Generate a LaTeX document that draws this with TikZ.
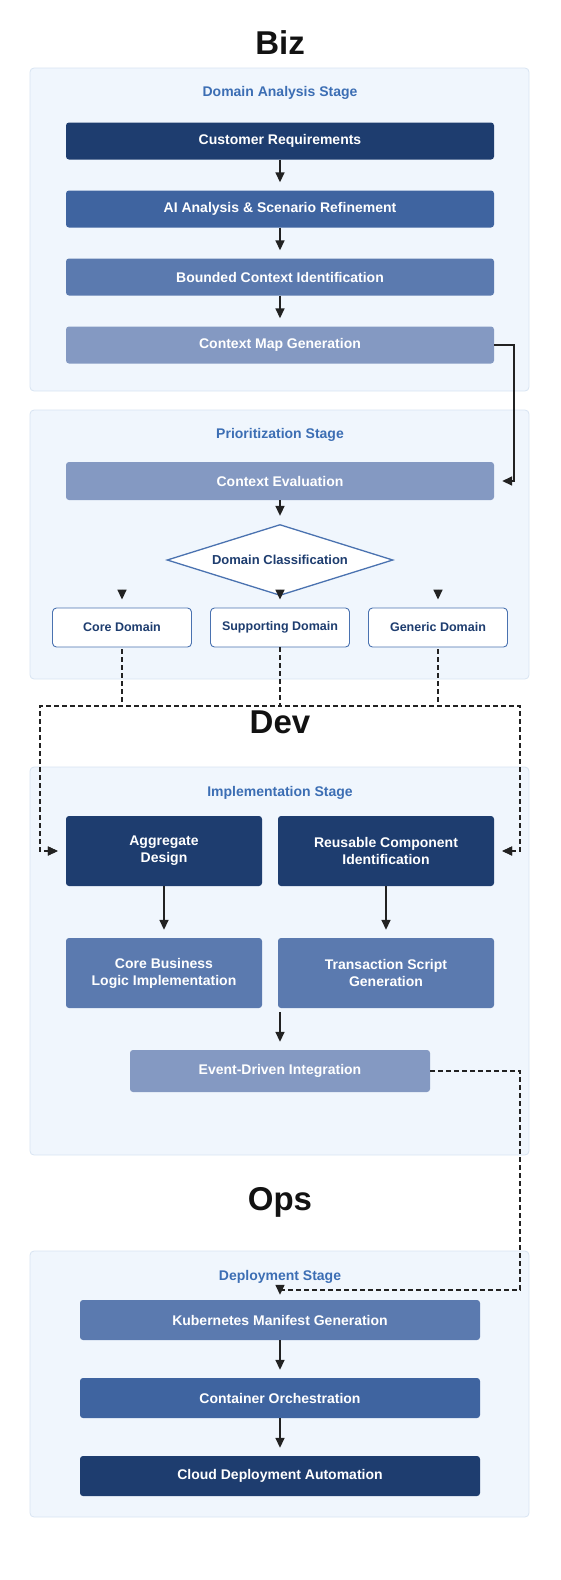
\documentclass[tikz,border=0pt]{standalone}
\usepackage{fontspec}
\setmainfont{Liberation Sans}
\usepackage{xcolor}
\usepackage{tikz}
\usetikzlibrary{arrows.meta,positioning,calc,shapes.geometric}
\definecolor{cdark}{HTML}{1E3D6F}
\definecolor{cmed}{HTML}{3F64A0}
\definecolor{cmlt}{HTML}{5B7AAF}
\definecolor{clt}{HTML}{8499C2}
\definecolor{pnlfill}{HTML}{F0F6FD}
\definecolor{pnldraw}{HTML}{D8E4F2}
\definecolor{stgtxt}{HTML}{3C6EB4}
\definecolor{dmdraw}{HTML}{4A72B0}
\definecolor{arrcol}{HTML}{222222}

\begin{document}
\begin{tikzpicture}[x=1pt,y=-1pt,
pnl/.style={fill=pnlfill, draw=pnldraw, line width=0.8pt, rounded corners=4pt},
ttl/.style={text=black!93, font=\bfseries\fontsize{33}{40}\selectfont},
stg/.style={text=stgtxt, font=\bfseries\fontsize{14}{17}\selectfont},
bx/.style={rounded corners=3pt, text=white, align=center, inner sep=0pt, font=\bfseries\fontsize{14}{17}\selectfont},
bxdark/.style={bx, fill=cdark},
bxmed/.style={bx, fill=cmed},
bxmlt/.style={bx, fill=cmlt},
bxlt/.style={bx, fill=clt},
wide/.style={minimum width=428, minimum height=37},
dom/.style={draw=dmdraw, fill=white, rounded corners=4pt, line width=0.9pt, minimum width=139, minimum height=39, inner sep=0pt, text=cdark, font=\bfseries\fontsize{12.5}{15}\selectfont},
arr/.style={draw=arrcol, line width=1.6pt, -{Triangle[length=10pt,width=9pt]}, shorten >=8pt},
dsh/.style={draw=arrcol, line width=1.4pt, dash pattern=on 5pt off 3pt, -{Triangle[length=10pt,width=9pt]}, shorten >=8pt}
]
\useasboundingbox (0,0) rectangle (560,1580);
% Create the stage panels
\draw[pnl] (30,68) rectangle (529,391);
\draw[pnl] (30,410) rectangle (529,679);
\draw[pnl] (30,767) rectangle (529,1155);
\draw[pnl] (30,1251) rectangle (529,1517);
% Biz
\node[ttl] (biz) at (280,43) {Biz};
\node[stg] (stga) at (280,93) {Domain Analysis Stage};
\node[bxdark, wide] (cust) at (280,141) {Customer Requirements};
\node[bxmed, wide] (aian) at (280,209) {AI Analysis \& Scenario Refinement};
\node[bxmlt, wide] (bctx) at (280,277) {Bounded Context Identification};
\node[bxlt, wide] (cmap) at (280,345) {Context Map Generation};
\draw[arr] (cust) -- (aian);
\draw[arr] (aian) -- (bctx);
\draw[arr] (bctx) -- (cmap);
% Prioritization
\node[stg] (stgp) at (280,435) {Prioritization Stage};
\node[bxlt, minimum width=428, minimum height=38] (ceval) at (280,481) {Context Evaluation};
\node[diamond, aspect=3.2, draw=dmdraw, fill=white, line width=1.3pt, inner sep=0pt, minimum width=226, minimum height=71, text=cdark, font=\bfseries\fontsize{13}{15}\selectfont] (dcls) at (280,560) {Domain Classification};
\node[dom] (core) at (122,627.5) {Core Domain};
\node[dom] (supp) at (280,627.5) {Supporting Domain};
\node[dom] (gen) at (438,627.5) {Generic Domain};
\draw[arr] (cmap.east) -- ++(20,0) |- (ceval.east);
\draw[arr] (ceval) -- (dcls);
\draw[arr] ($(core.north)+(0,-18)$) -- (core.north);
\draw[arr] ($(supp.north)+(0,-18)$) -- (supp.north);
\draw[arr] ($(gen.north)+(0,-18)$) -- (gen.north);
% Dev
\node[ttl] (dev) at (280,722) {Dev};
\node[stg] (stgi) at (280,793) {Implementation Stage};
\node[bxdark, minimum width=196, minimum height=70] (aggr) at (164,851) {Aggregate\\Design};
\node[bxdark, minimum width=216, minimum height=70] (reuse) at (386,851) {Reusable Component\\Identification};
\node[bxmlt, minimum width=196, minimum height=70] (cbiz) at (164,973) {Core Business\\Logic Implementation};
\node[bxmlt, minimum width=216, minimum height=70] (tscr) at (386,973) {Transaction Script\\Generation};
\node[bxlt, minimum width=300, minimum height=42] (evt) at (280,1071) {Event-Driven Integration};
\draw[dsh, dash phase=6pt] (core.south) |- (40,706) |- (aggr.west);
\draw[dsh] (supp.south) |- (40,706) |- (aggr.west);
\draw[dsh] (supp.south) |- (520,706) |- (reuse.east);
\draw[dsh, dash phase=6pt] (gen.south) |- (520,706) |- (reuse.east);
\draw[arr] (aggr) -- (cbiz);
\draw[arr] (reuse) -- (tscr);
\draw[arr, shorten <=4pt] (evt.north |- tscr.south) -- (evt.north);
% Ops
\node[ttl] (ops) at (280,1202) {Ops};
\node[stg] (stgd) at (280,1277) {Deployment Stage};
\node[bxmlt, minimum width=400, minimum height=40] (kube) at (280,1320) {Kubernetes Manifest Generation};
\node[bxmed, minimum width=400, minimum height=40] (cont) at (280,1398) {Container Orchestration};
\node[bxdark, minimum width=400, minimum height=40] (cld) at (280,1476) {Cloud Deployment Automation};
\draw[dsh, shorten >=5pt] (evt.east) -| (520,1290) -| (kube.north);
\draw[arr] (kube) -- (cont);
\draw[arr] (cont) -- (cld);
\end{tikzpicture}
\end{document}
